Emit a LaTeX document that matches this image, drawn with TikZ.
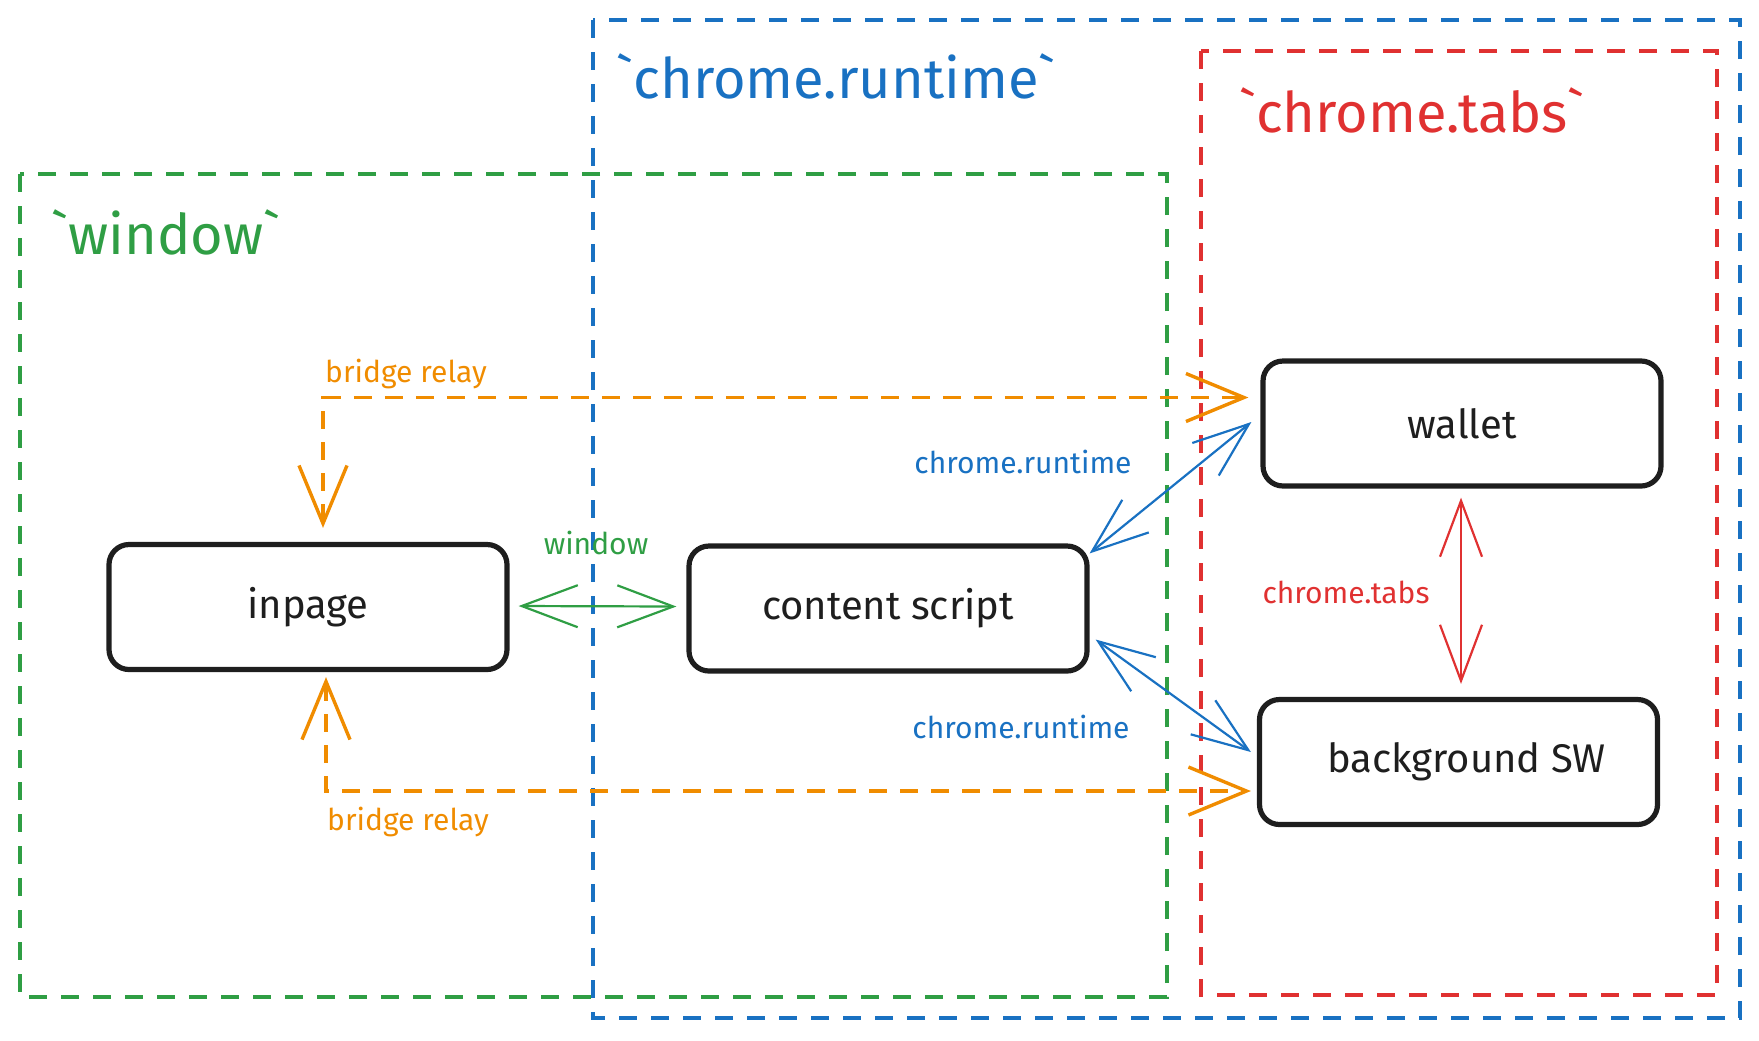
\documentclass[tikz,border=0pt]{standalone}
\usepackage{fontspec}
\setmainfont{Fira Sans}
\usetikzlibrary{arrows.meta,calc}
\definecolor{exgreen}{HTML}{2F9E44}
\definecolor{exblue}{HTML}{1971C2}
\definecolor{exred}{HTML}{E03131}
\definecolor{exorange}{HTML}{F08C00}
\definecolor{exblack}{HTML}{1E1E1E}
\tikzset{xbarb/.tip={Straight Barb[length=28pt,width=21pt]},
  obarb/.tip={Straight Barb[length=29pt,width=24pt]}}
\begin{document}
\begin{tikzpicture}[x=0.5pt,y=-0.5pt,
  region/.style={line width=2.2pt, dash pattern=on 9pt off 7pt},
  box/.style={draw=exblack, line width=2.6pt, rounded corners=10pt, minimum width=199pt, minimum height=62.5pt, font=\fontsize{20}{24}\selectfont, text=exblack},
  title/.style={font=\fontsize{28}{32}\selectfont},
  elabel/.style={font=\fontsize{15}{18}\selectfont},
  link/.style={xbarb-xbarb, line width=1.1pt},
  relay/.style={obarb-obarb, line width=1.7pt, dash pattern=on 9pt off 6.5pt, draw=exorange}]
\useasboundingbox (0,0) rectangle (1759,1040);
% regions
\draw[region, exgreen] (20,174) rectangle (1167,997);
\draw[region, exblue] (593,20) rectangle (1740,1018);
\draw[region, exred] (1201,51) rectangle (1717,995);
\node[title, text=exblue] (trt) at (836,76) {\textasciigrave chrome.runtime\textasciigrave};
\node[title, text=exred] (ttabs) at (1412,110) {\textasciigrave chrome.tabs\textasciigrave};
\node[title, text=exgreen] (twin) at (166,232) {\textasciigrave window\textasciigrave};
% nodes
\node[box] (inpage) at (308,607) {inpage};
\node[box] (content) at (888,608.5) {content script};
\node[box] (wallet) at (1462,423.5) {wallet};
\node[box] (bg) at (1458.5,762) {\hspace{8pt}background SW};
% connectors
\draw[link, exgreen] ($(inpage.east)+(9,-1)$) -- ($(content.west)+(-10,-2)$);
\draw[link, exblue] ($(content.north east)+(0,10)$) -- ($(wallet.west)+(-9,-1.5)$);
\draw[link, exblue] ($(content.east)+(6,31)$) -- ($(bg.west)+(-6,-10)$);
\draw[link, exred] ($(wallet.south)+(-1,9)$) -- ($(wallet.south |- bg.north)+(-1,-13)$);
\draw[relay] ($(inpage.north)+(15,-14)$) |- ($(wallet.west)+(-12,-26)$);
\draw[relay] ($(inpage.south)+(18,5)$) |- ($(bg.west)+(-6,29)$);
% labels
\node[elabel, text=exgreen] (lwin) at (596,543) {window};
\node[elabel, text=exblue] (lrt1) at (1023,462) {chrome.runtime};
\node[elabel, text=exblue] (lrt2) at (1021,727) {chrome.runtime};
\node[elabel, text=exred] (ltabs) at (1346,592) {chrome.tabs};
\node[elabel, text=exorange] (lbr1) at (406,374) {bridge relay};
\node[elabel, text=exorange] (lbr2) at (408,822) {bridge relay};
\end{tikzpicture}
\end{document}
